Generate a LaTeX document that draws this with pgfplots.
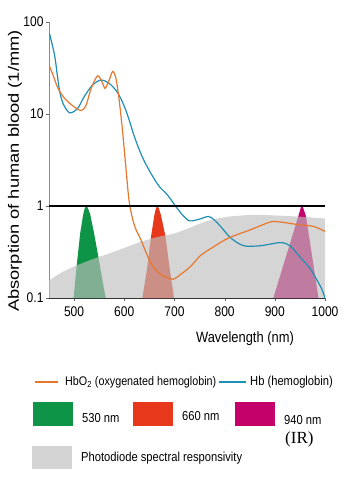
\documentclass[border=0pt]{standalone}
\usepackage{fontspec}
\setmainfont{Liberation Sans}[FakeStretch=0.86]
\newfontfamily\ylabfont{Liberation Sans}[FakeStretch=1.22]
\newfontfamily\serifIR{Liberation Serif}
\usepackage{pgfplots}
\pgfplotsset{compat=1.18}
\definecolor{hbo}{RGB}{232,119,46}
\definecolor{hb}{RGB}{31,143,179}
\definecolor{cgreen}{RGB}{14,148,70}
\definecolor{cred}{RGB}{232,56,28}
\definecolor{cmag}{RGB}{196,0,106}
\definecolor{cgray}{RGB}{190,190,190}
\definecolor{lgray}{RGB}{212,212,212}
\begin{document}
\begin{tikzpicture}[x=1bp,y=1bp]
\begin{axis}[
  at={(0,0)}, anchor=south west,
  scale only axis, width=276bp, height=276bp,
  ymode=log, xmin=450, xmax=1000, ymin=0.1, ymax=100,
  axis x line=bottom, axis y line=left,
  x axis line style={-, black!85},
  y axis line style={-, black!45},
  xtick={500,600,700,800,900,1000},
  ytick={0.1,1,10,100}, yticklabels={0.1,1,10,100},
  minor tick num=0, yminorticks=false,
  tick align=outside, major tick length=3bp,
  tick style={black!60},
  /pgf/number format/assume math mode=true,
  /pgf/number format/1000 sep={},
  ticklabel style={font=\fontsize{14bp}{16bp}\selectfont},
  xticklabel style={yshift=-2bp},
  yticklabel style={xshift=1bp},
  xlabel={Wavelength (nm)},
  xlabel style={at={(axis description cs:0.71,0)}, anchor=center, yshift=-41bp, font=\fontsize{15bp}{17bp}\selectfont},
  ylabel={Absorption of human blood (1/mm)},
  ylabel style={at={(axis description cs:-0.123,0.46)}, anchor=center, font=\ylabfont\fontsize{15bp}{17bp}\selectfont},
]
% LED emission shapes
\addplot[draw=none, fill=cgreen] coordinates {(499,0.1) (505,0.22) (512,0.5) (518,0.8) (521,0.94) (524,1.0) (527,0.96) (532,0.82) (540,0.5) (550,0.25) (557,0.15) (563,0.1)} -- cycle;
\addplot[draw=none, fill=cred] coordinates {(636,0.1) (645,0.2) (654,0.49) (660,0.8) (663,0.94) (666,1.0) (669,0.94) (673,0.8) (682,0.47) (691,0.2) (699,0.1)} -- cycle;
\addplot[draw=none, fill=cmag] coordinates {(897,0.1) (947,0.78) (952,0.97) (954,1.0) (956,0.97) (962,0.78) (987,0.1)} -- cycle;
% photodiode responsivity
\addplot[draw=none, fill=cgray, fill opacity=0.65] coordinates {(450,0.1) (450,0.155) (475,0.19) (500,0.22) (525,0.25) (550,0.28) (567,0.3) (600,0.35) (633,0.41) (666,0.46) (699,0.5) (720,0.55) (740,0.61) (760,0.67) (778,0.72) (810,0.77) (850,0.8) (878,0.8) (920,0.78) (960,0.76) (1000,0.73) (1000,0.1)} -- cycle;
% Hb
\addplot[hb, line width=1.2bp, smooth, tension=0.5] coordinates {
(451,75) (461,44) (466,28) (471,18) (478,13) (491,10.3) (507,11.5) (520,15.4) (537,20.7) (554,23.4) (570,21.5) (583,18.2) (593,14.8) (603,11) (612,7.9) (620,5.7) (636,3.4) (653,2.27) (669,1.65) (686,1.32) (702,1.0) (716,0.8) (730,0.69) (750,0.72) (768,0.77) (780,0.7) (792,0.6) (812,0.45) (838,0.37) (871,0.37) (911,0.4) (930,0.37) (950,0.28) (970,0.21) (983,0.16) (993,0.127) (1000,0.1)};
% HbO2
\addplot[hbo, line width=1.2bp, smooth, tension=0.5] coordinates {
(451,33) (458,26.5) (468,19) (481,14.8) (497,12.3) (514,10.9) (524,12.5) (534,19) (547,26) (557,21.5) (562,19) (570,23.4) (577,29) (583,25) (588,17) (591,12.5) (597,6.2) (603,2.7) (610,1.1) (620,0.62) (633,0.43) (653,0.24) (673,0.18) (696,0.16) (712,0.18) (732,0.22) (752,0.29) (778,0.36) (808,0.45) (851,0.55) (891,0.67) (911,0.67) (944,0.63) (977,0.6) (1000,0.53)};
% reference line at 1
\addplot[black, line width=1.2bp] coordinates {(450,1) (1000,1)};
\end{axis}
% legend
\draw[hbo, line width=1.5bp] (-14,-84) -- (9,-84);
\node[anchor=west, inner sep=0pt, font=\fontsize{12.5bp}{15bp}\selectfont] at (16,-84) {HbO\textsubscript{2} (oxygenated hemoglobin)};
\draw[hb, line width=1.5bp] (170,-84) -- (197,-84);
\node[anchor=west, inner sep=0pt, font=\fontsize{13bp}{15bp}\selectfont] at (201,-84) {Hb (hemoglobin)};
\fill[cgreen] (-16,-104) rectangle (24,-128);
\fill[cred] (84,-104) rectangle (124,-128);
\fill[cmag] (186,-104) rectangle (226,-128);
\node[anchor=west, inner sep=0pt, font=\fontsize{13bp}{15bp}\selectfont] at (33,-120) {530 nm};
\node[anchor=west, inner sep=0pt, font=\fontsize{13bp}{15bp}\selectfont] at (133,-118) {660 nm};
\node[anchor=west, inner sep=0pt, font=\fontsize{13bp}{15bp}\selectfont] at (235,-122) {940 nm};
\node[anchor=west, inner sep=0pt, font=\serifIR\fontsize{17bp}{19bp}\selectfont] at (236,-141) {(IR)};
\fill[lgray] (-17,-148) rectangle (23,-171);
\node[anchor=west, inner sep=0pt, font=\fontsize{13bp}{15bp}\selectfont] at (32,-160) {Photodiode spectral responsivity};
\path[use as bounding box] (-49,-186) rectangle (305,298);
\end{tikzpicture}
\end{document}
